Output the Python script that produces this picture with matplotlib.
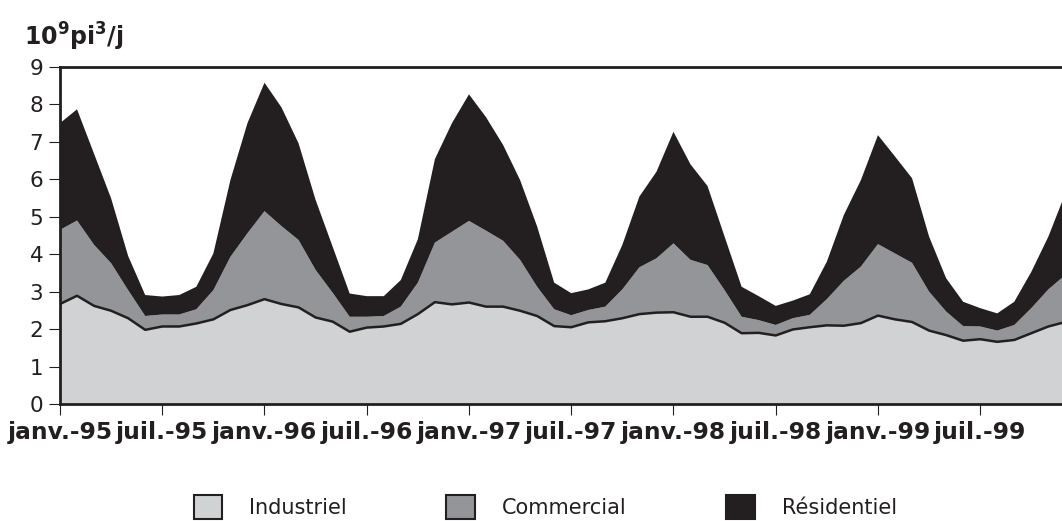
import numpy as np
import matplotlib
matplotlib.use('Agg')
import matplotlib.pyplot as plt
from matplotlib.patches import Patch

plt.rcParams['font.family'] = ['DejaVu Sans']
plt.rcParams['mathtext.default'] = 'regular'

# monthly data, janv.-95 .. déc.-99 (10^9 pi3/j)
industriel = [2.67, 2.89, 2.62, 2.49, 2.29, 1.98, 2.07, 2.07, 2.15, 2.26, 2.51, 2.64,
              2.80, 2.67, 2.58, 2.31, 2.20, 1.93, 2.04, 2.07, 2.14, 2.40, 2.72, 2.66,
              2.71, 2.60, 2.60, 2.49, 2.35, 2.08, 2.05, 2.18, 2.21, 2.29, 2.40, 2.44,
              2.45, 2.33, 2.33, 2.17, 1.89, 1.90, 1.83, 1.99, 2.05, 2.10, 2.09, 2.16,
              2.36, 2.26, 2.19, 1.96, 1.84, 1.69, 1.73, 1.66, 1.71, 1.89, 2.07, 2.19]
commercial = [1.98, 2.01, 1.63, 1.27, 0.75, 0.37, 0.32, 0.32, 0.38, 0.78, 1.42, 1.92,
              2.35, 2.08, 1.80, 1.27, 0.77, 0.40, 0.29, 0.28, 0.46, 0.84, 1.59, 1.94,
              2.18, 2.03, 1.76, 1.36, 0.78, 0.45, 0.32, 0.33, 0.39, 0.77, 1.25, 1.45,
              1.84, 1.52, 1.38, 0.87, 0.44, 0.34, 0.28, 0.30, 0.33, 0.70, 1.20, 1.51,
              1.91, 1.76, 1.58, 1.04, 0.63, 0.39, 0.34, 0.30, 0.40, 0.67, 0.99, 1.26]
residentiel = [2.85, 2.97, 2.43, 1.73, 0.91, 0.56, 0.48, 0.52, 0.60, 0.98, 2.05, 2.94,
               3.43, 3.17, 2.58, 1.87, 1.23, 0.62, 0.55, 0.53, 0.71, 1.16, 2.23, 2.90,
               3.38, 3.03, 2.56, 2.13, 1.61, 0.71, 0.59, 0.55, 0.64, 1.19, 1.89, 2.31,
               2.98, 2.55, 2.11, 1.43, 0.80, 0.64, 0.51, 0.47, 0.55, 1.00, 1.76, 2.31,
               2.91, 2.59, 2.26, 1.47, 0.89, 0.65, 0.49, 0.46, 0.62, 0.97, 1.41, 2.18]
tick_labels = ['janv.-95', 'juil.-95', 'janv.-96', 'juil.-96', 'janv.-97', 'juil.-97',
               'janv.-98', 'juil.-98', 'janv.-99', 'juil.-99']
series_names = ['Industriel', 'Commercial', 'Résidentiel']
colors = ['#d1d2d4', '#939598', '#231f20']
dark = '#231f20'

months = np.arange(len(industriel))

fig = plt.figure(figsize=(10.62, 5.21), dpi=100)
ax = fig.add_axes([0.0565, 0.2246, 0.9435, 0.6468])

ax.stackplot(months, industriel, commercial, residentiel, colors=colors, linewidth=0)
ax.plot(months, industriel, color=dark, linewidth=1.8)

ax.set_xlim(0, 58.8)
ax.set_ylim(0, 9)
ax.set_yticks(range(10))
ax.set_xticks(np.arange(0, 60, 6))
ax.set_xticklabels(tick_labels, fontsize=16.8, fontweight='bold', color=dark)
ax.tick_params(axis='y', labelsize=15.5, labelcolor=dark, length=8, width=0.8,
               pad=4, color=dark)
ax.tick_params(axis='x', length=8, width=0.8, pad=4, color=dark)

for s in ['left', 'bottom', 'top']:
    ax.spines[s].set_linewidth(2)
    ax.spines[s].set_color(dark)
ax.spines['right'].set_visible(False)

fig.text(0.023, 0.913, r'10$^9$pi$^3$/j', fontsize=17, fontweight='bold', color=dark)

handles = [Patch(facecolor=c, edgecolor=dark, linewidth=1.5) for c in colors]
fig.legend(handles, series_names, loc='upper left', bbox_to_anchor=(0.1724, 0.0695),
           ncol=3, frameon=False, fontsize=15, handlelength=1.35, handleheight=1.35,
           handletextpad=1.3, columnspacing=4.8, borderpad=0, labelcolor=dark)

fig.savefig('out.png', dpi=100)
